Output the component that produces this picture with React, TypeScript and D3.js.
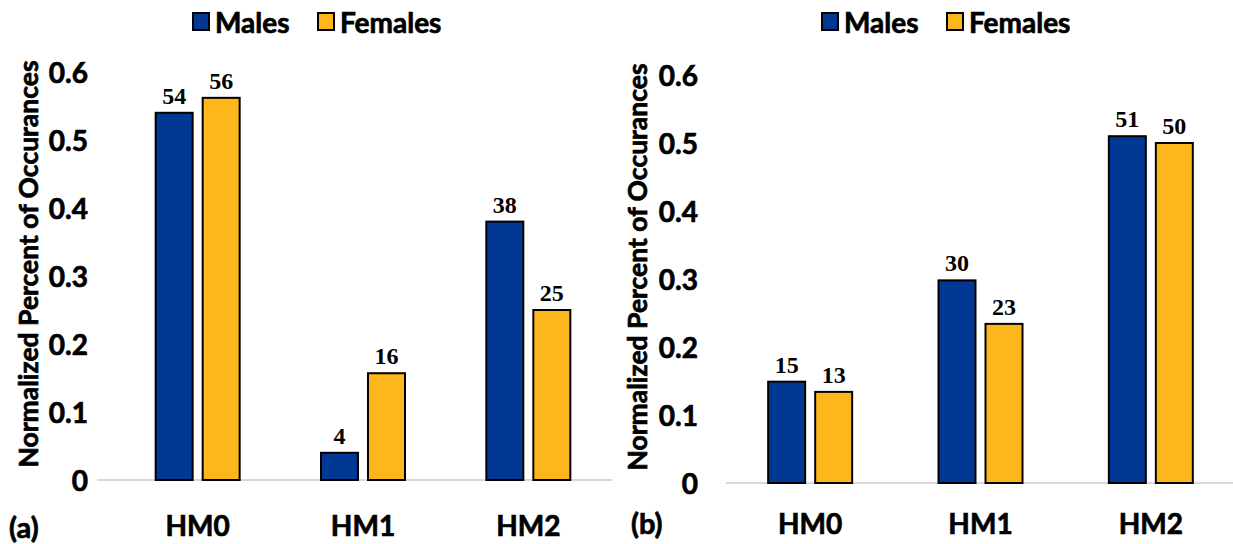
import React from "react";
import * as d3 from "d3";

const categories = ["HM0", "HM1", "HM2"];
const seriesNames = ["Males", "Females"];
const malesA = [0.54, 0.04, 0.38];
const femalesA = [0.562, 0.157, 0.25];
const labelsMalesA = ["54", "4", "38"];
const labelsFemalesA = ["56", "16", "25"];
const malesB = [0.149, 0.298, 0.51];
const femalesB = [0.134, 0.234, 0.5];
const labelsMalesB = ["15", "30", "51"];
const labelsFemalesB = ["13", "23", "50"];
const yTicks = [0, 0.1, 0.2, 0.3, 0.4, 0.5, 0.6];
const yTitle = "Normalized Percent of Occurances";
const colors = ["#003893", "#FDB71D"];

const SANS = "Lato, 'Open Sans', sans-serif";
const SERIF = "'Liberation Serif', 'Times New Roman', serif";
const HEAVY = { stroke: "#000", strokeWidth: 0.7 };

type PanelProps = {
  males: number[];
  females: number[];
  lm: string[];
  lf: string[];
  tag: string;
  y0: number;
  y6: number;
  x0: number;
  x1: number;
  axisX0: number;
  axisX1: number;
  tickX: number;
  titleX: number;
  legendX: number;
  tagX: number;
  tagY: number;
  catY: number;
};

function Panel(p: PanelProps) {
  const y = d3.scaleLinear().domain([0, 0.6]).range([p.y0, p.y6]);
  const x = d3.scaleBand().domain(categories).range([p.x0, p.x1]);
  const sub = d3.scaleBand().domain(seriesNames).range([-42, 42]).paddingInner(0.213);
  const bw = sub.bandwidth();
  const series = [
    { name: "Males", vals: p.males, labels: p.lm },
    { name: "Females", vals: p.females, labels: p.lf },
  ];
  return (
    <g>
      {yTicks.map((t) => (
        <text key={t} x={p.tickX} y={y(t)} textAnchor="end" dominantBaseline="central"
          fontFamily={SANS} fontWeight={700} fontSize={28} fill="#000" {...HEAVY}>
          {d3.format("")(+t.toFixed(1))}
        </text>
      ))}
      <text transform={`translate(${p.titleX},${(p.y0 + p.y6) / 2 - 12}) rotate(-90)`} textAnchor="middle"
        dominantBaseline="central" fontFamily={SANS} fontWeight={700} fontSize={26.5} fill="#000" {...HEAVY}>
        {yTitle}
      </text>
      <line x1={p.axisX0} x2={p.axisX1} y1={p.y0} y2={p.y0} stroke="#d9d9d9" strokeWidth={2} />
      {categories.map((c, i) => {
        const cx = (x(c) as number) + x.bandwidth() / 2;
        return (
          <g key={c}>
            {series.map((s, si) => {
              const bx = cx + (sub(s.name) as number);
              const top = y(s.vals[i]);
              return (
                <g key={s.name}>
                  <rect x={bx} y={top} width={bw} height={p.y0 - top} fill={colors[si]}
                    stroke="#000" strokeWidth={2} />
                  <text x={bx + bw / 2} y={top - 9} textAnchor="middle" fontFamily={SERIF}
                    fontWeight={700} fontSize={24} fill="#000">
                    {s.labels[i]}
                  </text>
                </g>
              );
            })}
            <text x={cx} y={p.catY} textAnchor="middle" dominantBaseline="central" fontFamily={SANS}
              fontWeight={700} fontSize={28} fill="#000" {...HEAVY}>
              {c}
            </text>
          </g>
        );
      })}
      <g transform={`translate(${p.legendX},0)`}>
        <rect x={0} y={13} width={16} height={17} fill={colors[0]} stroke="#000" strokeWidth={2} />
        <text x={22} y={22} dominantBaseline="central" fontFamily={SANS} fontWeight={700} fontSize={28} {...HEAVY}>
          {seriesNames[0]}
        </text>
        <rect x={125} y={13} width={16} height={17} fill={colors[1]} stroke="#000" strokeWidth={2} />
        <text x={147} y={22} dominantBaseline="central" fontFamily={SANS} fontWeight={700} fontSize={28} {...HEAVY}>
          {seriesNames[1]}
        </text>
      </g>
      <text x={p.tagX} y={p.tagY} dominantBaseline="central" fontFamily={SANS} fontWeight={700} fontSize={29} {...HEAVY}>
        {p.tag}
      </text>
    </g>
  );
}

export default function App() {
  return (
    <svg width={1233} height={544} style={{ position: "absolute", left: 0, top: 0, background: "#fff" }}>
      <rect width={1233} height={544} fill="#fff" />
      <Panel males={malesA} females={femalesA} lm={labelsMalesA} lf={labelsFemalesA} tag="(a)"
        y0={480} y6={72} x0={115} x1={611} axisX0={97} axisX1={612} tickX={88} titleX={28}
        legendX={193} tagX={9} tagY={526} catY={525} />
      <Panel males={malesB} females={femalesB} lm={labelsMalesB} lf={labelsFemalesB} tag="(b)"
        y0={483} y6={75} x0={725} x1={1236} axisX0={726} axisX1={1233} tickX={698} titleX={637}
        legendX={822} tagX={631} tagY={522} catY={523} />
    </svg>
  );
}
